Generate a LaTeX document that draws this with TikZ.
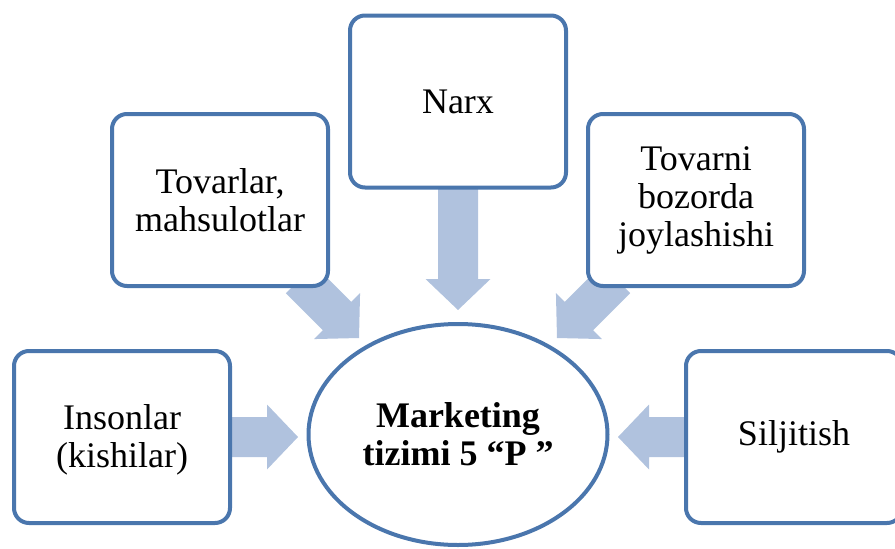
\documentclass[tikz,border=0pt]{standalone}
\usepackage{fontspec}
\setmainfont{Liberation Serif}
\usetikzlibrary{shapes.geometric,calc}
\pgfdeclarelayer{bg}
\pgfsetlayers{bg,main}
\definecolor{edgeblue}{RGB}{74,118,173}
\definecolor{arrowblue}{RGB}{176,194,222}
\tikzset{
  box/.style={draw=edgeblue, line width=4pt, fill=white, rounded corners=15pt,
    minimum width=216pt, minimum height=172pt, inner sep=0pt, align=center,
    font=\fontsize{36}{38}\selectfont},
  hub/.style={ellipse, draw=edgeblue, line width=4pt, fill=white,
    minimum width=299pt, minimum height=221pt, inner sep=0pt, align=center,
    font=\fontsize{36}{38}\selectfont\bfseries},
  blockarrow/.style={fill=arrowblue, draw=none}
}
\newcommand{\twolines}[3]{\raisebox{#1}[\height][\depth]{\begin{tabular}{@{}c@{}}#2\\#3\end{tabular}}}
\newcommand{\blockarrow}[2]{%
  \path let \p1=(#1), \p2=(#2) in coordinate (tmpS) at (\p1) coordinate (tmpT) at (\p2);
  \coordinate (tmpB) at ($(tmpT)!31pt!(tmpS)$);
  \fill[blockarrow] ($(tmpS)!20pt!90:(tmpT)$) -- ($(tmpB)!20pt!-90:(tmpS)$)
    -- ($(tmpB)!32.5pt!-90:(tmpS)$) -- (tmpT) -- ($(tmpB)!32.5pt!90:(tmpS)$)
    -- ($(tmpB)!20pt!90:(tmpS)$) -- ($(tmpS)!20pt!-90:(tmpT)$) -- cycle;
}
\begin{document}
\begin{tikzpicture}[x=1pt,y=-1pt]
\useasboundingbox (0,0) rectangle (895,549);
\node[hub] (hub) at (458,434.5) {\twolines{-4pt}{Marketing}{tizimi 5 “P ”}};
\node[box] (tov) at (220,200) {Tovarlar,\\mahsulotlar};
\node[box] (narx) at (458,101.5) {Narx};
\node[box] (joy) at (696,200) {Tovarni\\bozorda\\joylashishi};
\node[box] (ins) at (122,437) {\twolines{-4pt}{Insonlar}{(kishilar)}};
\node[box] (sil) at (794,437) {Siljitish};
\coordinate (tipIns) at (298,437);
\coordinate (tipSil) at (618,437);
\coordinate (tipNarx) at (458,310);
\coordinate (tipTov) at (359,338);
\coordinate (tipJoy) at (557,338);
\coordinate (startTov) at (300,279);
\coordinate (startJoy) at (616,279);
\begin{pgfonlayer}{bg}
\blockarrow{ins.center}{tipIns}
\blockarrow{sil.center}{tipSil}
\blockarrow{narx.center}{tipNarx}
\blockarrow{startTov}{tipTov}
\blockarrow{startJoy}{tipJoy}
\end{pgfonlayer}
\end{tikzpicture}
\end{document}
